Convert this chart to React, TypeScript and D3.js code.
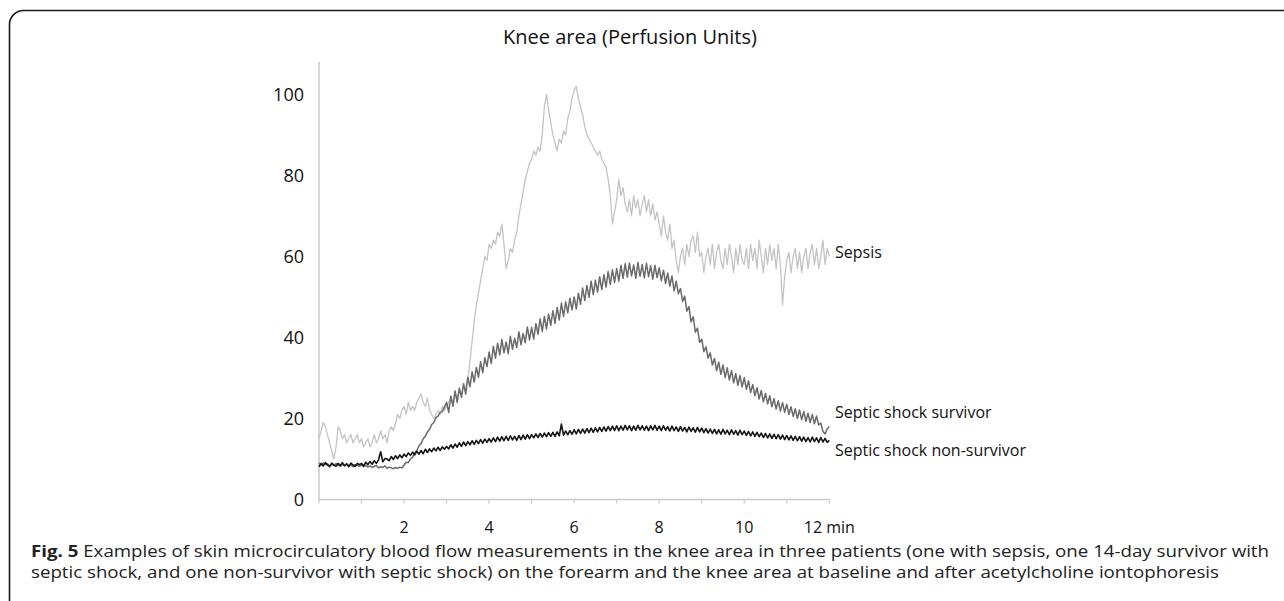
import React from "react";
import * as d3 from "d3";

// ---------- DATA ----------
const TITLE = "Knee area (Perfusion Units)";
const X_TICKS = [0, 1, 2, 3, 4, 5, 6, 7, 8, 9, 10, 11, 12];
const X_LABELS = [2, 4, 6, 8, 10, 12];
const Y_LABELS = [0, 20, 40, 60, 80, 100];
const TIME_END = 12; // minutes, samples evenly spaced over 0..12

const sepsis = [
  15,17,19,18,16,14,12,10,13,18,17,15,16,14,15,16,14,15,16,14,
  15,13,14,15,13,14,16,14,15,17,15,16,14,17,18,17,19,21,20,22,
  23,21,24,22,23,22,24,25,26,24,23,25,22,21,20,21,22,21,23,22,
  23,24,25,24,26,25,27,26,28,27,30,34,39,44,48,51,54,57,60,59,
  63,62,64,63,66,65,68,63,57,59,62,61,64,66,70,73,76,79,81,83,
  84,86,85,87,86,90,97,100,96,93,90,88,86,89,88,91,90,94,96,99,
  101,102,99,97,95,92,90,89,88,87,86,85,86,84,83,82,79,75,68,71,
  74,79,75,77,73,71,74,70,75,72,74,70,73,75,71,74,70,73,69,71,
  68,65,70,66,64,68,62,64,59,56,60,62,58,63,60,64,65,61,66,60,
  61,56,60,62,58,63,57,61,63,59,57,62,58,63,60,56,62,58,63,59,
  58,62,57,63,59,62,57,64,60,56,62,58,63,59,62,57,63,58,48,55,
  59,61,56,60,62,57,61,56,60,62,57,61,63,58,62,57,60,64,58,62,60,
];

const survivor = [
  9,8.5,9,8.6,8.8,8.3,8.7,8.4,8.9,8.5,8.2,8.6,8.4,8.8,8.3,8.5,8.1,8.6,8.4,8.2,
  8.5,8.1,8.4,8,8.3,7.9,8.2,8.4,7.8,8.1,7.9,8.3,7.7,8,7.8,7.6,7.9,7.7,8,7.8,
  8.5,9.2,9.1,10,10.4,11.6,12.1,13.2,13.8,15,15.6,16.7,17.3,18.5,19,20.2,20.6,21.5,21.7,22.8,
  24,21.5,25.5,23,26.8,24,27.5,25.2,28.6,26,30.2,27.8,31.5,29,32.6,30.2,34,31.3,35,32.8,
  36.4,33.6,37.8,34.9,38.6,35.7,39.5,36.2,38.9,36,40.3,37.1,39.8,37.5,41.4,38.2,41,38.7,42.6,39.4,
  42.5,39.6,43.4,40.8,44.6,41.5,45.2,42.1,45.8,43,46.6,43.5,47.4,44.3,48.5,45.2,48.8,46.1,49.7,46.8,
  50,47,50.9,48.2,52.2,49.1,52.8,49.9,53.9,50.6,54.1,51.2,55,51.8,55.5,52.4,56.3,53.1,56.7,53.6,
  57,53.9,57.8,54.6,58.2,54.9,58.4,55.2,57.9,54.6,58.5,55.1,58,54.7,58.3,55,57.7,54.4,57.8,54.8,
  57.2,54,56.6,53.3,55.9,52.7,55.2,51.5,53.9,50.8,52.1,48.9,50.2,46.5,47.6,43.8,45.1,41.3,42.3,38.8,
  39.6,36.5,37.7,34.9,36.2,33.2,34.8,31.8,33.9,30.9,33.2,30.1,32.5,29.5,31.8,28.8,31.1,28.2,30.6,27.8,
  30.1,27.2,29.3,26.4,28.4,25.6,27.6,24.8,26.9,24.1,26.2,23.6,25.6,22.9,24.9,22.3,24.4,21.8,23.9,21.5,
  23.5,21,22.9,20.5,22.4,20,22.1,19.7,21.7,19.3,21.3,19,21,18.7,20.6,18.4,18.9,16.8,16.2,17.4,18,
];

const nonSurvivor = [
  8.1,8.9,8.3,9.1,8.5,8.1,9,8.5,8.2,8.9,8.4,9.1,8.3,8.8,8.1,9,8.5,8.2,8.9,8.6,
  8.9,8.3,9.2,8.6,9.4,8.7,9.6,8.9,9.8,11.8,9.3,10.1,10,9.6,10.6,9.9,10.8,10.1,11,10.3,
  11.2,10.6,11.5,10.9,11.7,11,11.9,11.2,12.1,11.3,12.4,11.6,12.5,11.8,12.7,12,12.9,12.1,13,12.4,
  13.1,12.5,13.5,12.7,13.7,12.9,14,13.1,14.2,13.3,14.3,13.5,14.5,13.6,14.6,13.8,14.8,13.9,14.9,14.1,
  15,14.2,15.2,14.3,15.4,14.4,15.5,14.5,15.6,14.6,15.7,14.7,15.6,14.6,15.8,14.8,15.9,14.9,16,15,
  16,15.2,16.2,15.3,16.3,15.4,16.4,15.5,16.5,15.6,16.6,15.6,16.7,15.7,18.6,15.9,16.9,16,17,16.1,
  17.2,16.2,17.3,16.3,17.4,16.4,17.5,16.5,17.6,16.6,17.7,16.7,17.8,16.8,17.9,16.9,18,17,18.1,17,
  18.2,17,18.1,17.1,18.3,17.2,18.2,17,18.1,17.1,18.3,17.2,18.2,17.1,18.1,17,18.2,17.2,18.3,17.1,
  18.1,17,18.2,17.1,18,16.9,18.1,17,17.9,16.8,18,16.9,17.8,16.7,17.9,16.8,17.7,16.6,17.8,16.7,
  17.6,16.5,17.5,16.4,17.4,16.3,17.3,16.2,17.2,16.1,17.3,16.2,17.1,16,17.2,16.1,17,15.9,17.1,16,
  16.9,15.8,16.8,15.7,16.7,15.6,16.6,15.5,16.4,15.3,16.3,15.2,16.2,15.1,16.1,15,16,14.9,15.9,14.8,
  15.8,14.7,15.7,14.6,15.6,14.5,15.5,14.4,15.4,14.3,15.3,14.2,15.4,14.3,15.2,14.1,15.3,14.2,15.1,14.1,14.6,
];

const SERIES_NAMES = ["Sepsis", "Septic shock survivor", "Septic shock non-survivor"];
const SERIES_VALUES = [sepsis, survivor, nonSurvivor];
const SERIES_COLORS = ["#c4c4c4", "#6a6a6a", "#141414"];
const SERIES_WIDTHS = [1.3, 1.5, 1.6];
const LABEL_VALUES = [60.9, 21.6, 12.1];

const CAPTION_BOLD = "Fig. 5";
const CAPTION_LINE1 =
  " Examples of skin microcirculatory blood flow measurements in the knee area in three patients (one with sepsis, one 14-day survivor with";
const CAPTION_LINE2 =
  "septic shock, and one non-survivor with septic shock) on the forearm and the knee area at baseline and after acetylcholine iontophoresis";

// ---------- LAYOUT ----------
const W = 1284;
const H = 601;
const X0 = 319;
const X1 = 829.3;
const Y_ZERO = 499.5;
const Y_TOP = 62;
const FONT = "'Open Sans', 'DejaVu Sans', sans-serif";

export default function App() {
  const x = d3.scaleLinear().domain([0, TIME_END]).range([X0, X1]);
  const y = d3.scaleLinear().domain([0, 108]).range([Y_ZERO, Y_TOP]);

  const makeLine = (vals: number[]) => {
    const n = vals.length;
    const line = d3
      .line<number>()
      .x((_, i) => x((i * TIME_END) / (n - 1)))
      .y((v) => y(v));
    return line(vals) || "";
  };

  return (
    <svg
      width={W}
      height={H}
      viewBox={`0 0 ${W} ${H}`}
      style={{ position: "fixed", left: 0, top: 0, background: "#fff", display: "block" }}
      fontFamily={FONT}
    >
      <rect x={0} y={0} width={W} height={H} fill="#fff" />
      {/* frame */}
      <rect x={9.5} y={10.5} width={1320} height={640} rx={14} ry={14} fill="none" stroke="#1a1a1a" strokeWidth={1.6} />

      {/* title */}
      <text x={630} y={44} textAnchor="middle" fontSize={20} fill="#111">
        {TITLE}
      </text>

      {/* y axis line */}
      <line x1={X0} x2={X0} y1={Y_TOP} y2={Y_ZERO} stroke="#c9c9c9" strokeWidth={1.5} />
      {/* x axis line and ticks */}
      <line x1={X0} x2={X1} y1={Y_ZERO} y2={Y_ZERO} stroke="#c9c9c9" strokeWidth={1.5} />
      {X_TICKS.map((t) => (
        <line key={t} x1={x(t)} x2={x(t)} y1={Y_ZERO} y2={Y_ZERO + 4} stroke="#c9c9c9" strokeWidth={1.2} />
      ))}

      {/* y labels */}
      {Y_LABELS.map((v) => (
        <text key={v} x={304} y={y(v)} dy="0.35em" textAnchor="end" fontSize={18} fill="#111">
          {v}
        </text>
      ))}

      {/* x labels */}
      {X_LABELS.map((t) => (
        <text key={t} x={x(t)} y={533} textAnchor="middle" fontSize={16} fill="#111">
          {t === 12 ? "12 min" : t}
        </text>
      ))}

      {/* series */}
      {SERIES_VALUES.map((vals, i) => (
        <path
          key={SERIES_NAMES[i]}
          d={makeLine(vals)}
          fill="none"
          stroke={SERIES_COLORS[i]}
          strokeWidth={SERIES_WIDTHS[i]}
          strokeLinejoin="round"
        />
      ))}

      {/* series labels */}
      {SERIES_NAMES.map((name, i) => (
        <text key={name} x={835} y={y(LABEL_VALUES[i])} dy="0.35em" fontSize={16} fill="#111">
          {name}
        </text>
      ))}

      {/* caption */}
      <text x={31} y={557} fontSize={16} fill="#222" textLength={1238} lengthAdjust="spacingAndGlyphs">
        <tspan fontWeight="bold">{CAPTION_BOLD}</tspan>
        <tspan>{CAPTION_LINE1}</tspan>
      </text>
      <text x={31} y={578} fontSize={16} fill="#222" textLength={1188} lengthAdjust="spacingAndGlyphs">
        {CAPTION_LINE2}
      </text>
    </svg>
  );
}
